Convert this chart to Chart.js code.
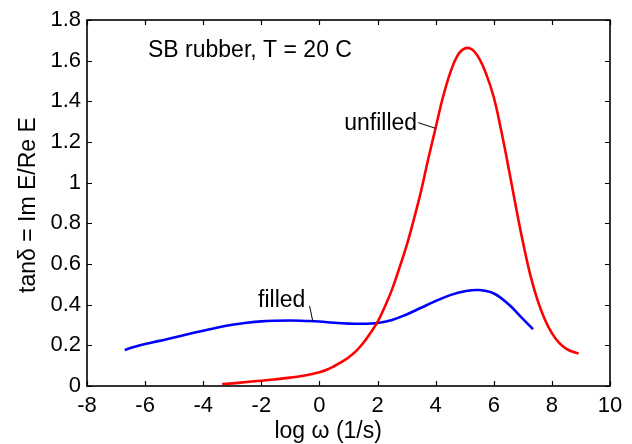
<!DOCTYPE html>
<html><head><meta charset="utf-8">
<script src="https://cdn.jsdelivr.net/npm/chart.js@4"></script>
<style>html,body{margin:0;padding:0;background:#fff}canvas{display:block}</style>
</head><body>
<canvas id="c" width="632" height="444"></canvas>
<script>
// ---- data ----
const unfilledX = [-3.35, -3.0, -2.5, -2.0, -1.5, -1.0, -0.5, 0.0, 0.25, 0.5, 0.75, 1.0, 1.25, 1.5, 1.75, 2.0, 2.25, 2.5, 2.75, 3.0, 3.25, 3.5, 3.75, 4.0, 4.25, 4.5, 4.75, 5.0, 5.25, 5.5, 5.75, 6.0, 6.25, 6.5, 6.75, 7.0, 7.25, 7.5, 7.75, 8.0, 8.25, 8.5, 8.75, 8.92];
const unfilledY = [0.010, 0.013, 0.020, 0.026, 0.033, 0.041, 0.052, 0.068, 0.080, 0.097, 0.117, 0.140, 0.170, 0.210, 0.260, 0.315, 0.390, 0.475, 0.580, 0.690, 0.820, 0.960, 1.120, 1.270, 1.420, 1.540, 1.625, 1.660, 1.655, 1.610, 1.530, 1.420, 1.260, 1.080, 0.890, 0.710, 0.550, 0.425, 0.330, 0.260, 0.212, 0.183, 0.167, 0.160];
const filledX = [-6.7, -6.5, -6.0, -5.5, -5.0, -4.5, -4.0, -3.5, -3.0, -2.5, -2.0, -1.5, -1.0, -0.5, 0.0, 0.5, 1.0, 1.5, 2.0, 2.5, 3.0, 3.5, 4.0, 4.5, 5.0, 5.5, 6.0, 6.5, 7.0, 7.35];
const filledY = [0.177, 0.187, 0.207, 0.222, 0.239, 0.256, 0.272, 0.288, 0.301, 0.311, 0.318, 0.321, 0.322, 0.320, 0.317, 0.311, 0.307, 0.306, 0.310, 0.325, 0.352, 0.385, 0.418, 0.447, 0.466, 0.472, 0.455, 0.403, 0.330, 0.280];
const xTickValues = [-8, -6, -4, -2, 0, 2, 4, 6, 8, 10];
const yTickValues = [0, 0.2, 0.4, 0.6, 0.8, 1, 1.2, 1.4, 1.6, 1.8];
const xTitle = 'log \u03c9 (1/s)';
const yTitle = 'tan\u03b4 = Im E/Re E';
const noteTitle = 'SB rubber, T = 20 C';
const noteUnfilled = 'unfilled';
const noteFilled = 'filled';

// ---- annotation placement (data coordinates, alphabetic baseline) ----
const notes = [
  {text: noteTitle, x: -5.90, y: 1.62, align: 'left'},
  {text: noteUnfilled, x: 3.36, y: 1.259, align: 'right'},
  {text: noteFilled, x: -1.30, y: 0.39, align: 'center'}
];
const leaders = [
  {x1: 3.40, y1: 1.295, x2: 3.98, y2: 1.268},
  {x1: -0.34, y1: 0.394, x2: -0.23, y2: 0.319}
];

const FONT = '"Liberation Sans", Arial, Helvetica, sans-serif';
const toPts = (xs, ys) => xs.map((x, i) => ({x, y: ys[i]}));

const framePlugin = {
  id: 'frame',
  afterDatasetsDraw(chart) {
    const {ctx, chartArea: a, scales} = chart;
    ctx.save();
    ctx.strokeStyle = '#000';
    ctx.lineWidth = 1.2;
    const tl = 5;
    ctx.beginPath();
    xTickValues.forEach(v => {
      const px = Math.round(scales.x.getPixelForValue(v)) + 0.5;
      ctx.moveTo(px, a.bottom); ctx.lineTo(px, a.bottom - tl);
      ctx.moveTo(px, a.top); ctx.lineTo(px, a.top + tl);
    });
    yTickValues.forEach(v => {
      const py = Math.round(scales.y.getPixelForValue(v)) + 0.5;
      ctx.moveTo(a.left, py); ctx.lineTo(a.left + tl, py);
      ctx.moveTo(a.right, py); ctx.lineTo(a.right - tl, py);
    });
    ctx.stroke();
    ctx.lineWidth = 1.6;
    ctx.strokeRect(a.left, a.top, a.right - a.left, a.bottom - a.top);
    // annotations
    ctx.fillStyle = '#000';
    ctx.textBaseline = 'alphabetic';
    ctx.font = '23px ' + FONT;
    notes.forEach(n => {
      ctx.textAlign = n.align;
      ctx.fillText(n.text, scales.x.getPixelForValue(n.x), scales.y.getPixelForValue(n.y));
    });
    ctx.lineWidth = 1;
    ctx.beginPath();
    leaders.forEach(l => {
      ctx.moveTo(scales.x.getPixelForValue(l.x1), scales.y.getPixelForValue(l.y1));
      ctx.lineTo(scales.x.getPixelForValue(l.x2), scales.y.getPixelForValue(l.y2));
    });
    ctx.stroke();
    // axis titles
    ctx.textAlign = 'center';
    ctx.fillText(xTitle, scales.x.getPixelForValue(0.3), chart.height - 6);
    ctx.translate(35, (a.top + a.bottom) / 2 + 2);
    ctx.rotate(-Math.PI / 2);
    ctx.fillText(yTitle, 0, 0);
    ctx.restore();
  }
};

new Chart(document.getElementById('c'), {
  type: 'line',
  data: {
    datasets: [
      {label: noteUnfilled, data: toPts(unfilledX, unfilledY), borderColor: '#ff0000', borderWidth: 2.6, pointRadius: 0, tension: 0.4, fill: false},
      {label: noteFilled, data: toPts(filledX, filledY), borderColor: '#0000ff', borderWidth: 2.6, pointRadius: 0, tension: 0.4, fill: false}
    ]
  },
  options: {
    responsive: false,
    animation: false,
    events: [],
    layout: {padding: {left: 0, right: 22, top: 20, bottom: 0}},
    plugins: {legend: {display: false}, tooltip: {enabled: false}},
    scales: {
      x: {
        type: 'linear', min: -8, max: 10,
        afterBuildTicks: s => { s.ticks = xTickValues.map(v => ({value: v})); },
        afterFit: s => { s.height = 58; },
        grid: {display: false, drawTicks: false},
        border: {display: false},
        ticks: {color: '#000', padding: 7, font: {family: FONT, size: 22}, maxRotation: 0, autoSkip: false,
                callback: v => String(v)}
      },
      y: {
        type: 'linear', min: 0, max: 1.8,
        afterBuildTicks: s => { s.ticks = yTickValues.map(v => ({value: v})); },
        afterFit: s => { s.width = 87; },
        grid: {display: false, drawTicks: false},
        border: {display: false},
        ticks: {color: '#000', padding: 6, font: {family: FONT, size: 22}, autoSkip: false,
                callback: v => String(Math.round(v * 10) / 10)}
      }
    }
  },
  plugins: [framePlugin]
});
</script>
</body></html>
